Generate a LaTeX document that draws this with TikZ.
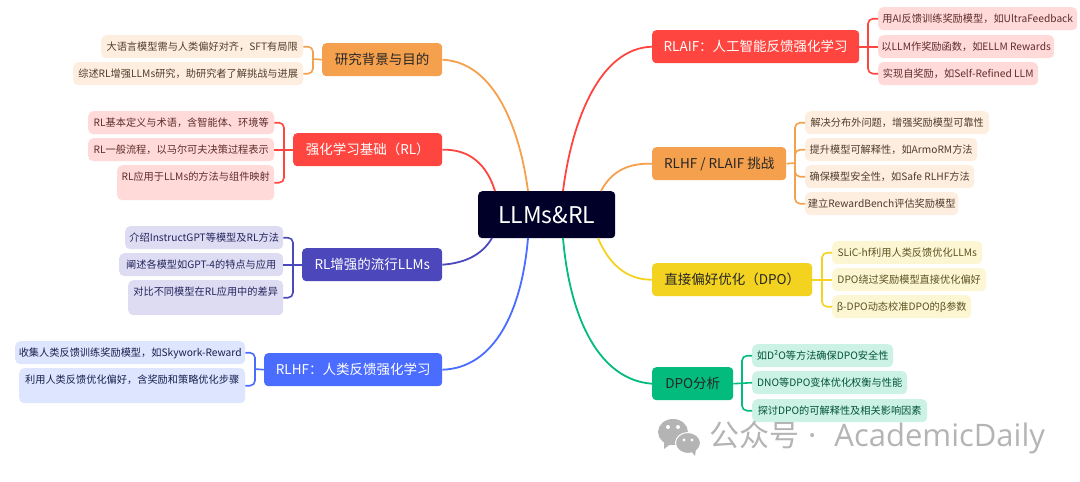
\documentclass[tikz,border=0pt]{standalone}
\usepackage{fontspec}
\setmainfont{Noto Sans CJK SC}
\newfontfamily\markfont{Open Sans}
\usetikzlibrary{calc}
\definecolor{rootcol}{HTML}{000028}
\definecolor{orangecol}{HTML}{F5A04C}
\definecolor{redcol}{HTML}{FF453F}
\definecolor{purplecol}{HTML}{4C48BC}
\definecolor{bluecol}{HTML}{4A6CFF}
\definecolor{yellowcol}{HTML}{F3D31F}
\definecolor{greencol}{HTML}{02BB7C}
\definecolor{markcol}{HTML}{B4B4B4}
\tikzset{
    branch/.style={anchor=north west, rounded corners=4pt, inner xsep=0pt, inner ysep=10pt,
        text height=11.5pt, text depth=1.5pt, font=\fontsize{13.5}{16}\selectfont},
    leaf/.style={anchor=north west, rounded corners=5pt, inner xsep=0pt, inner ysep=6pt,
        text height=9.5pt, text depth=1.5pt, font=\fontsize{10.2}{12}\selectfont},
    tall/.style={text depth=13.5pt},
    orangeleaf/.style={leaf, fill=orangecol!18, text=orangecol!25!black!90},
    redleaf/.style={leaf, fill=redcol!20, text=redcol!30!black!90},
    purpleleaf/.style={leaf, fill=purplecol!19, text=purplecol!50!black},
    blueleaf/.style={leaf, fill=bluecol!18, text=bluecol!30!black},
    yellowleaf/.style={leaf, fill=yellowcol!20, text=yellowcol!30!black!90},
    greenleaf/.style={leaf, fill=greencol!20, text=greencol!45!black},
    trunk/.style={line width=1.8pt},
    link/.style={line width=1.6pt, rounded corners=5pt}
}
\begin{document}
\begin{tikzpicture}[x=1pt, y=-1pt]
    \useasboundingbox (0,0) rectangle (1080,482);

    % Centre and branches
    \node[fill=rootcol, text=white, rounded corners=4pt, anchor=north west, minimum width=137pt, minimum height=47pt,
        font=\fontsize{23}{26}\selectfont] (root) at (478,191) {LLMs\&RL};
    \node[branch, fill=orangecol, text=black!85, minimum width=120pt] (bg) at (322,43) {研究背景与目的};
    \node[branch, fill=redcol, text=white, minimum width=149pt] (rl) at (293,133) {强化学习基础（RL）};
    \node[branch, fill=purplecol, text=white, minimum width=140pt] (pop) at (302,248) {RL增强的流行LLMs};
    \node[branch, fill=bluecol, text=white, minimum width=178pt] (hf) at (264,353) {RLHF：人类反馈强化学习};
    \node[branch, fill=redcol, text=white, minimum width=207pt] (aif) at (652,30) {RLAIF：人工智能反馈强化学习};
    \node[branch, fill=orangecol, text=black!85, minimum width=134pt] (chal) at (652,147) {RLHF / RLAIF 挑战};
    \node[branch, fill=yellowcol, text=black!85, minimum width=160pt] (dpo) at (652,263) {直接偏好优化（DPO）};
    \node[branch, fill=greencol, text=black!85, minimum width=81pt] (ana) at (652,367) {DPO分析};

    % Leaves on the left
    \node[orangeleaf, minimum width=202pt] (bgone) at (101,35) {大语言模型需与人类偏好对齐，SFT有局限};
    \node[orangeleaf, minimum width=230pt] (bgtwo) at (73,62) {综述RL增强LLMs研究，助研究者了解挑战与进展};
    \node[redleaf, minimum width=186pt] (rlone) at (88,111) {RL基本定义与术语，含智能体、环境等};
    \node[redleaf, minimum width=186pt] (rltwo) at (88,138) {RL一般流程，以马尔可夫决策过程表示};
    \node[redleaf, tall, minimum width=157pt] (rlthree) at (117,165) {RL应用于LLMs的方法与组件映射};
    \node[purpleleaf, minimum width=158pt] (popone) at (125,226) {介绍InstructGPT等模型及RL方法};
    \node[purpleleaf, minimum width=164pt] (poptwo) at (119,253) {阐述各模型如GPT-4的特点与应用};
    \node[purpleleaf, tall, minimum width=155pt] (popthree) at (128,280) {对比不同模型在RL应用中的差异};
    \node[blueleaf, minimum width=230pt] (hfone) at (15,341) {收集人类反馈训练奖励模型，如Skywork-Reward};
    \node[blueleaf, tall, minimum width=226pt] (hftwo) at (19,368) {利用人类反馈优化偏好，含奖励和策略优化步骤};

    % Leaves on the right
    \node[redleaf, minimum width=199pt] (aifone) at (878,7) {用AI反馈训练奖励模型，如UltraFeedback};
    \node[redleaf, minimum width=176pt] (aiftwo) at (878,35) {以LLM作奖励函数，如ELLM Rewards};
    \node[redleaf, minimum width=160pt] (aifthree) at (878,62) {实现自奖励，如Self-Refined LLM};
    \node[orangeleaf, minimum width=184pt] (chalone) at (805,111) {解决分布外问题，增强奖励模型可靠性};
    \node[orangeleaf, minimum width=172pt] (chaltwo) at (805,138) {提升模型可解释性，如ArmoRM方法};
    \node[orangeleaf, minimum width=169pt] (chalthree) at (805,165) {确保模型安全性，如Safe RLHF方法};
    \node[orangeleaf, minimum width=153pt] (chalfour) at (805,192) {建立RewardBench评估奖励模型};
    \node[yellowleaf, minimum width=150pt] (dpoone) at (832,241) {SLiC-hf利用人类反馈优化LLMs};
    \node[yellowleaf, minimum width=154pt] (dpotwo) at (832,268) {DPO绕过奖励模型直接优化偏好};
    \node[yellowleaf, minimum width=139pt] (dpothree) at (832,295) {β-DPO动态校准DPO的β参数};
    \node[greenleaf, minimum width=141pt] (anaone) at (752,344) {如D²O等方法确保DPO安全性};
    \node[greenleaf, minimum width=155pt] (anatwo) at (752,371) {DNO等DPO变体优化权衡与性能};
    \node[greenleaf, minimum width=175pt] (anathree) at (752,399) {探讨DPO的可解释性及相关影响因素};

    % Where the curves meet the centre
    \coordinate (topa) at (495,191);
    \coordinate (topb) at (528,191);
    \coordinate (topc) at (563,191);
    \coordinate (topd) at (601,191);
    \coordinate (bota) at (492,238);
    \coordinate (botb) at (528,238);
    \coordinate (botc) at (563,238);
    \coordinate (botd) at (598,238);

    \draw[orangecol, trunk] (bg.east) .. controls (495,62) and (520,130) .. (topb);
    \draw[redcol, trunk] (rl.east) .. controls (470,149) and (487,165) .. (topa);
    \draw[purplecol, trunk] (pop.east) .. controls (465,263) and (482,255) .. (bota);
    \draw[bluecol, trunk] (hf.east) .. controls (495,368) and (522,310) .. (botb);
    \draw[redcol, trunk] (aif.west) .. controls (600,48) and (572,120) .. (topc);
    \draw[orangecol, trunk] (chal.west) .. controls (630,163) and (612,170) .. (topd);
    \draw[yellowcol, trunk] (dpo.west) .. controls (625,280) and (608,262) .. (botd);
    \draw[greencol, trunk] (ana.west) .. controls (600,380) and (570,320) .. (botc);

    % Brackets to the leaves
    \coordinate (bgmid) at (313,59);
    \draw[link, orangecol] (bgone.east) -| (bgmid) |- (bgtwo.east);
    \draw[link, orangecol] (bg.west) -- (bgmid);
    \coordinate (rlmid) at (284,150);
    \draw[link, redcol] (rlone.east) -| (rlmid) |- (rlthree.east);
    \draw[link, redcol] (rl.west) -- (rltwo.east);
    \coordinate (popmid) at (293,264);
    \draw[link, purplecol] (popone.east) -| (popmid) |- (popthree.east);
    \draw[link, purplecol] (pop.west) -- (poptwo.east);
    \coordinate (hfmid) at (255,369);
    \draw[link, bluecol] (hfone.east) -| (hfmid) |- (hftwo.east);
    \draw[link, bluecol] (hf.west) -- (hfmid);
    \coordinate (aifmid) at (868,46);
    \draw[link, redcol] (aifone.west) -| (aifmid) |- (aifthree.west);
    \draw[link, redcol] (aif.east) -- (aiftwo.west);
    \coordinate (chalmid) at (795,163);
    \draw[link, orangecol] (chalone.west) -| (chalmid) |- (chalfour.west);
    \draw[link, orangecol] (chaltwo.west) -| (chalmid) |- (chalthree.west);
    \draw[link, orangecol] (chal.east) -- (chalmid);
    \coordinate (dpomid) at (822,280);
    \draw[link, yellowcol] (dpoone.west) -| (dpomid) |- (dpothree.west);
    \draw[link, yellowcol] (dpo.east) -- (dpotwo.west);
    \coordinate (anamid) at (742,383);
    \draw[link, greencol] (anaone.west) -| (anamid) |- (anathree.west);
    \draw[link, greencol] (ana.east) -- (anatwo.west);

    % Watermark
    \fill[markcol] (673,432) ellipse (15 and 13);
    \fill[markcol] (664,441) -- (664,449) -- (672,443) -- cycle;
    \filldraw[markcol, draw=white, line width=1pt] (688,443) ellipse (12.5 and 10.5);
    \fill[markcol] (691,451) -- (695,456) -- (696,449) -- cycle;
    \fill[white] (668,427) circle (2);
    \fill[white] (678,427) circle (2);
    \fill[white] (684,440) circle (1.6);
    \fill[white] (692,440) circle (1.6);
    \node[anchor=west, text=markcol, inner sep=0pt, font=\fontsize{30}{34}\selectfont] (mark) at (709,438)
        {公众号\hspace{9pt}{\markfont\fontsize{31}{34}\selectfont·\hspace{18pt}AcademicDaily}};
\end{tikzpicture}
\end{document}
